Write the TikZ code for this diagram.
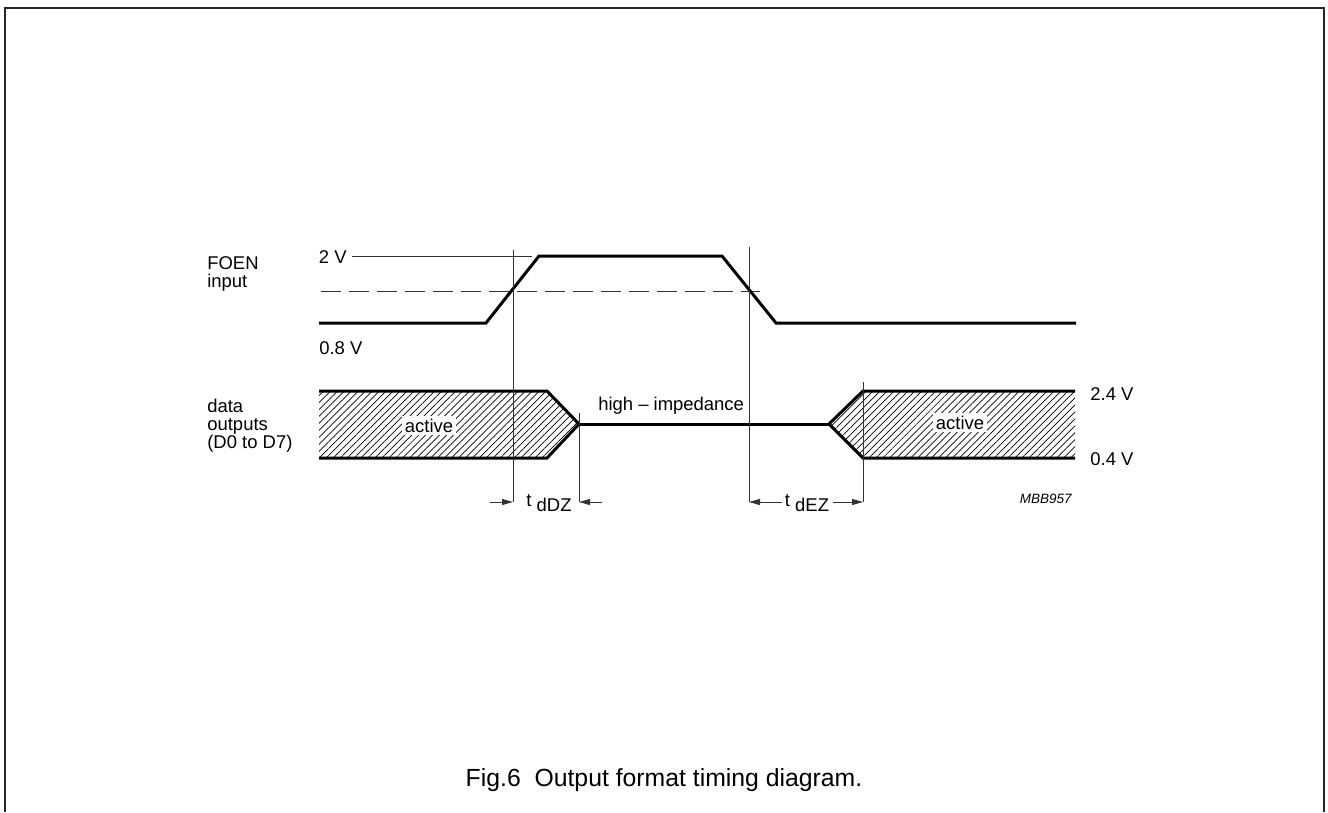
\documentclass[tikz,border=0pt]{standalone}
\usepackage{fontspec}
\setmainfont{Liberation Sans}
\usepackage{tikz}
\usetikzlibrary{arrows.meta}
\usetikzlibrary{patterns.meta}

\begin{document}
\begin{tikzpicture}[
  x=0.02cm, y=-0.02cm,
  every node/.style={font=\fontsize{10.5}{12}\selectfont, inner sep=0pt},
  sig/.style={line width=0.06cm, line join=miter},
  guide/.style={line width=0.02cm, black!80},
  hatch/.style={pattern={Lines[angle=45, distance=2.8pt, line width=0.4pt]}},
  dim/.style={guide, -{Triangle[length=0.22cm, width=0.12cm]}},
  lbl/.style={anchor=base west},
  tag/.style={anchor=base, fill=white, inner sep=1.5pt}
]
\useasboundingbox (0,0) rectangle (1328,812);

% Frame
\draw[line width=0.03cm, black!85] (5,812) -- (5,8) -- (1324,8) -- (1324,812);

% Labels
\node[lbl] (foen) at (207,269) {FOEN};
\node[lbl] (inp) at (207,287) {input};
\node[anchor=base east] (v2) at (347,263) {2 V};
\node[lbl] (v08) at (319,354) {0.8 V};
\node[lbl] (data) at (207,412) {data};
\node[lbl] (outs) at (207,430) {outputs};
\node[lbl] (dbus) at (207,448) {(D0 to D7)};
\node[lbl] (v24) at (1090,400) {2.4 V};
\node[lbl] (v04) at (1090,465) {0.4 V};
\node[lbl] (hiz) at (598,410) {high -- impedance};
\node[anchor=base east, font=\fontsize{7.7}{9}\selectfont\itshape] (code) at (1072,503) {MBB957};
\node[anchor=base, font=\fontsize{14.1}{16}\selectfont] (cap) at (664,786) {Fig.6\ \ Output format timing diagram.};

% FOEN input
\draw[guide] (352,256) -- (532,256);
\draw[guide, dash pattern=on 0.4cm off 0.16cm] (321,291) -- (760,291);
\draw[sig] (319,323) -- (486,323) -- (539,256) -- (722,256) -- (776,323) -- (1076,323);

% Data outputs
\fill[hatch] (319,391) -- (547,391) -- (579,424) -- (547,458) -- (319,458) -- cycle;
\fill[hatch] (1075,391) -- (863,391) -- (829,424) -- (863,458) -- (1075,458) -- cycle;
\draw[sig] (319,391) -- (547,391) -- (579,424) -- (547,458) -- (319,458);
\draw[sig] (579,424) -- (829,424);
\draw[sig] (1075,391) -- (863,391) -- (829,424) -- (863,458) -- (1075,458);
\node[tag] (actA) at (429,432) {active};
\node[tag] (actB) at (960,429) {active};

% Timing marks
\coordinate (m1) at (513,502);
\coordinate (m2) at (579,502);
\coordinate (m3) at (749,502);
\coordinate (m4) at (863,502);
\draw[guide] (513,250) -- (m1);
\draw[guide] (579,413) -- (m2);
\draw[guide] (749,247) -- (m3);
\draw[guide] (863,382) -- (m4);

\node[anchor=base] (tdz) at (549,506) {t \raisebox{-3.4pt}{dDZ}};
\node[anchor=base] (tez) at (807,506) {t \raisebox{-3.4pt}{dEZ}};
\draw[dim] (490,502) -- (m1);
\draw[dim] (602,502) -- (m2);
\draw[dim] (782,502) -- (m3);
\draw[dim] (833,502) -- (m4);
\end{tikzpicture}
\end{document}
